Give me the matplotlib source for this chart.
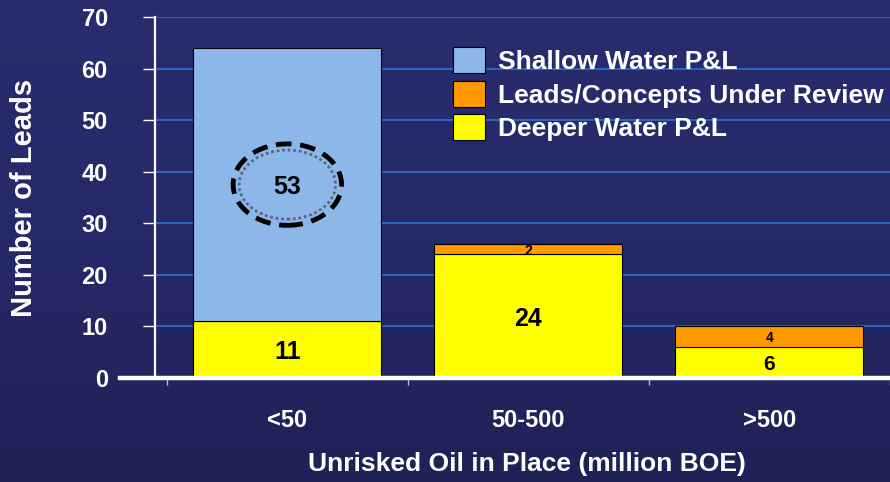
import matplotlib
import matplotlib.pyplot as plt
import numpy as np
from matplotlib.colors import LinearSegmentedColormap
from matplotlib.patches import Ellipse, Patch

matplotlib.use("Agg")

# data
categories = ["<50", "50-500", ">500"]
deeper_water = [11, 24, 6]
under_review = [0, 2, 4]
shallow_water = [53, 0, 0]
series_names = ["Deeper Water P&L", "Leads/Concepts Under Review", "Shallow Water P&L"]
y_ticks = [0, 10, 20, 30, 40, 50, 60, 70]

colors = {
    "Deeper Water P&L": "#ffff00",
    "Leads/Concepts Under Review": "#ff9900",
    "Shallow Water P&L": "#8db7e8",
}

plt.rcParams["font.family"] = ["Liberation Sans", "DejaVu Sans"]
plt.rcParams["font.weight"] = "bold"

fig = plt.figure(figsize=(8.9, 4.82), dpi=100)

# navy slide background with a soft vertical gradient
bg = fig.add_axes([0, 0, 1, 1], zorder=-10)
cmap = LinearSegmentedColormap.from_list("slide", ["#2a2d6d", "#262968", "#1f2256"])
bg.imshow(np.linspace(0, 1, 256).reshape(-1, 1), aspect="auto", cmap=cmap,
          extent=(0, 1, 0, 1))
bg.axis("off")

ax = fig.add_axes([155 / 890, 1 - 378 / 482, 1 - 155 / 890, (378 - 17) / 482])
ax.set_facecolor("none")

x = np.arange(len(categories))
width = 0.78
bottom = np.zeros(len(categories))
for name, vals in zip(series_names, [deeper_water, under_review, shallow_water]):
    vals = np.array(vals, dtype=float)
    ax.bar(x, vals, width, bottom=bottom, color=colors[name], edgecolor="black",
           linewidth=0.8, zorder=3, label=name)
    for xi, b, h in zip(x, bottom, vals):
        if h <= 0:
            continue
        size = 18 if h >= 10 else (15 if h >= 5 else 10)
        ax.text(xi, b + h / 2, f"{int(h)}", ha="center", va="center_baseline",
                fontsize=size, fontweight="bold", color="black", zorder=5)
    bottom += vals

# dashed highlight ring around the shallow-water count
cy = deeper_water[0] + shallow_water[0] / 2
ax.add_patch(Ellipse((x[0], cy), 0.45, 15.8, fill=False, edgecolor="black",
                     linewidth=3.5, linestyle=(0, (3.2, 1.8)), zorder=6))
ax.add_patch(Ellipse((x[0], cy), 0.40, 13.4, fill=False, edgecolor="#5c6488",
                     linewidth=2, linestyle=(0, (1, 1)), zorder=6))

ax.set_xlim(-0.549, 2.463)
ax.set_ylim(0, 70)
ax.set_yticks(y_ticks)
ax.set_xticks(x)
ax.set_xticklabels(categories)
ax.set_xticks(np.concatenate([[x[0] - 0.5], x + 0.5]), minor=True)

ax.grid(axis="y", color="#2f6fd6", linewidth=1.2, zorder=0)
ax.set_axisbelow(True)

for side in ["top", "right", "bottom"]:
    ax.spines[side].set_visible(False)
ax.spines["left"].set_color("white")
ax.spines["left"].set_linewidth(1.6)
ax.axhline(0, xmin=-0.048, xmax=1, color="white", linewidth=3.2, clip_on=False, zorder=4)

ax.tick_params(axis="y", colors="white", labelsize=17, length=9, width=1, pad=25)
ax.tick_params(axis="x", which="major", colors="white", labelsize=17, length=0, pad=22)
ax.tick_params(axis="x", which="minor", color="#b8bccc", length=5, width=1)
for lbl in ax.get_xticklabels() + ax.get_yticklabels():
    lbl.set_fontweight("bold")

ax.set_ylabel("Number of Leads", color="white", fontsize=21, fontweight="bold")
ax.yaxis.set_label_coords(-0.159, 0.5)
ax.set_xlabel("Unrisked Oil in Place (million BOE)", color="white", fontsize=19,
              fontweight="bold")
ax.xaxis.set_label_coords(0.506, -0.205)

handles = [Patch(facecolor=colors[n], edgecolor="black", linewidth=0.8)
           for n in series_names[::-1]]
leg = fig.legend(handles, series_names[::-1], loc="upper left",
                 bbox_to_anchor=(453 / 890, 1 - 47 / 482), frameon=False,
                 borderpad=0, borderaxespad=0, handlelength=1.21, handleheight=1.14,
                 handletextpad=0.5, labelspacing=0.25,
                 prop={"size": 19, "weight": "bold"})
for t in leg.get_texts():
    t.set_color("white")

fig.savefig("out.png", dpi=100)
